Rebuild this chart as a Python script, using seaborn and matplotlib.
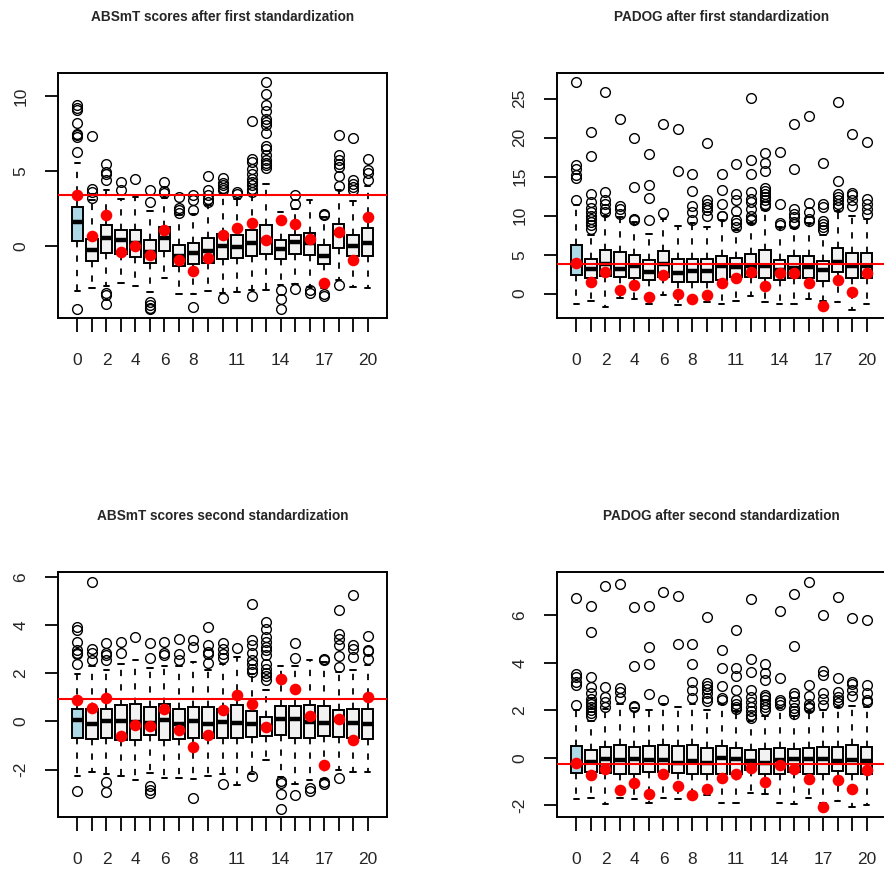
import matplotlib
matplotlib.use("Agg")
import matplotlib.pyplot as plt
import seaborn as sns

# groups on the x axis, only some labels are printed (like R does)
groups = list(range(21))
shown_labels = [0, 2, 4, 6, 8, 11, 14, 17, 20]

# ---- ABSmT scores after first standardization ----
abs1_med = [1.6, -0.24, 0.56, 0.38, 0.2, -0.4, 0.56, -0.69, -0.47, -0.33, 0.0, -0.07, 0.22, 0.42, -0.18, 0.27, 0.22, -0.69, 0.89, -0.02, 0.22]
abs1_q1 = [0.3, -1.02, -0.44, -0.56, -0.73, -1.11, -0.33, -1.33, -1.18, -1.11, -0.84, -0.78, -0.69, -0.51, -0.89, -0.56, -0.62, -1.22, -0.13, -0.69, -0.69]
abs1_q3 = [2.6, 0.45, 1.38, 1.09, 1.09, 0.38, 1.27, 0.04, 0.2, 0.53, 0.82, 0.76, 1.04, 1.42, 0.42, 0.71, 0.89, 0.04, 1.49, 0.76, 1.22]
abs1_lo = [-3.0, -2.78, -2.69, -2.47, -2.69, -3.07, -2.13, -3.18, -3.18, -3.02, -3.13, -3.09, -2.91, -2.96, -2.6, -2.51, -2.73, -2.8, -2.3, -2.73, -2.78]
abs1_hi = [5.55, 3.04, 3.76, 3.16, 3.27, 2.33, 3.22, 2.05, 2.1, 2.71, 3.49, 3.16, 3.4, 4.16, 2.27, 2.49, 3.04, 1.9, 3.71, 3.0, 3.98]
abs1_out = [
    [9.42, 9.22, 9.04, 8.2, 7.49, 7.38, 7.27, 6.27, -4.22],
    [7.31, 3.82, 3.6, 3.22],
    [5.49, 4.93, 4.78, 4.38, -3.11, -3.29, -3.84],
    [4.27, 3.71],
    [4.44],
    [3.76, 2.93, -3.73, -3.96, -4.11, -4.22],
    [4.27, 3.67, 3.53],
    [3.27, 2.56, 2.38, 2.2],
    [3.38, 3.09, 2.38, -4.07],
    [4.67, 3.76, 3.42, 3.16, 2.93],
    [4.53, 4.2, 4.04, 3.89, 3.71, -3.47],
    [3.6, 3.49],
    [8.33, 5.82, 5.6, 5.16, 4.82, 4.49, 4.27, 4.04, 3.82, 3.6, -3.36],
    [10.91, 10.16, 9.38, 8.98, 8.49, 8.27, 8.04, 7.53, 6.64, 6.49, 6.04, 5.71, 5.53, 5.38, 5.22],
    [-2.96, -3.56, -4.18],
    [3.38, 2.78, -2.84],
    [-2.96, -3.11],
    [2.16, 2.04, -3.18, -3.33],
    [7.42, 6.04, 5.71, 5.49, 5.27, 4.67, 4.0, -2.58],
    [7.22, 4.38, 4.16, 3.93, 3.76],
    [5.82, 5.04, 4.89, 4.38],
]
abs1_red = [3.38, 0.64, 2.04, -0.42, 0.0, -0.62, 1.09, -0.96, -1.67, -0.8, 0.71, 1.22, 1.53, 0.38, 1.71, 1.44, 0.44, -2.47, 0.93, -0.96, 1.93]
abs1_cut = 3.38

# ---- PADOG after first standardization ----
pad1_med = [3.9, 3.12, 3.85, 3.2, 3.6, 2.8, 3.8, 2.69, 2.86, 2.86, 3.55, 3.42, 3.55, 3.5, 3.08, 3.29, 3.42, 3.0, 4.06, 3.55, 3.55]
pad1_q1 = [2.35, 2.05, 2.22, 2.14, 2.05, 1.71, 2.14, 1.5, 1.5, 1.5, 1.8, 2.14, 2.14, 2.0, 1.71, 2.05, 2.05, 1.58, 2.78, 2.05, 2.05]
pad1_q3 = [6.2, 4.49, 5.56, 5.34, 5.0, 4.27, 5.47, 4.4, 4.49, 4.49, 4.83, 4.57, 5.04, 5.64, 4.36, 4.83, 4.83, 4.14, 5.9, 5.26, 5.26]
pad1_lo = [-1.28, -0.98, -1.7, -0.55, -0.64, -1.28, -0.21, -1.5, -0.85, -1.07, -1.28, -0.98, -0.34, -1.07, -1.28, -1.28, -0.64, -1.0, -1.07, -2.05, -1.37]
pad1_hi = [11.4, 7.48, 10.0, 9.8, 9.2, 7.7, 9.6, 8.68, 9.0, 8.6, 9.4, 8.2, 9.0, 10.7, 8.5, 8.4, 9.0, 7.5, 10.6, 10.0, 9.6]
pad1_out = [
    [27.1, 16.45, 16.0, 15.2, 14.8, 12.05],
    [20.7, 17.7, 12.8, 11.75, 11.0, 10.5, 10.0, 9.6, 9.2, 8.8, 8.3],
    [25.85, 13.0, 11.97, 11.5, 10.9, 10.5],
    [22.35, 11.3, 10.9, 10.25],
    [20.0, 13.7, 9.6, 9.4],
    [17.86, 14.0, 12.3, 9.4],
    [21.7, 10.34],
    [21.07, 15.73],
    [15.3, 13.16, 11.3, 10.47, 9.49],
    [19.3, 12.0, 11.5, 11.1, 10.7, 9.9],
    [15.3, 13.3, 11.45, 10.0, 9.9],
    [16.6, 12.8, 12.0, 10.55, 9.4, 9.0, 8.55],
    [25.1, 17.1, 15.4, 13.0, 12.2, 11.75, 10.9, 10.0, 9.6, 9.4],
    [18.1, 16.7, 15.7, 13.5, 13.2, 12.8, 12.4, 12.0, 11.5, 11.2],
    [18.2, 11.45, 9.0, 8.8],
    [21.7, 16.0, 10.8, 10.25, 9.8, 9.2, 8.9],
    [22.8, 11.6, 10.5, 9.6, 9.3],
    [16.8, 11.45, 11.1, 9.3, 8.9, 8.55, 8.2],
    [24.6, 14.45, 12.8, 12.4, 12.0, 11.5, 11.1],
    [20.5, 12.9, 12.6, 12.05, 11.3],
    [19.45, 12.2, 11.45, 10.8, 10.25],
]
pad1_red = [3.93, 1.5, 2.78, 0.51, 1.07, -0.43, 2.35, 0.0, -0.73, -0.21, 1.37, 2.05, 2.78, 0.98, 2.65, 2.65, 1.37, -1.62, 1.71, 0.21, 2.65]
pad1_cut = 3.85

# ---- ABSmT scores second standardization ----
abs2_med = [0.04, -0.1, 0.0, 0.0, -0.03, -0.07, 0.04, -0.12, 0.0, -0.12, -0.03, -0.07, -0.12, -0.24, 0.08, 0.11, -0.03, -0.07, 0.07, -0.07, -0.12]
abs2_q1 = [-0.68, -0.72, -0.68, -0.79, -0.76, -0.58, -0.76, -0.72, -0.68, -0.68, -0.68, -0.68, -0.65, -0.62, -0.58, -0.68, -0.68, -0.62, -0.65, -0.68, -0.72]
abs2_q3 = [0.53, 0.53, 0.53, 0.66, 0.73, 0.59, 0.71, 0.53, 0.59, 0.59, 0.53, 0.66, 0.43, 0.18, 0.62, 0.62, 0.66, 0.62, 0.48, 0.53, 0.53]
abs2_lo = [-2.28, -2.1, -2.17, -2.28, -2.42, -2.14, -2.35, -2.35, -2.38, -2.28, -2.2, -2.66, -2.2, -1.59, -2.3, -2.61, -2.42, -2.4, -2.0, -2.1, -2.1]
abs2_hi = [1.98, 2.3, 2.12, 2.39, 2.56, 2.21, 2.3, 2.28, 2.46, 2.14, 2.39, 2.67, 1.95, 1.29, 2.3, 2.3, 2.53, 2.45, 2.05, 2.12, 2.32]
abs2_out = [
    [3.91, 3.8, 3.29, 2.95, 2.85, 2.78, 2.37, -2.89],
    [5.78, 3.02, 2.84, 2.53],
    [3.26, 2.84, 2.74, 2.53, -2.52, -2.93],
    [3.29, 2.85],
    [3.5],
    [3.25, 2.64, -2.7, -2.84, -2.97],
    [3.29, 2.84, 2.74],
    [3.43, 2.78, 2.56],
    [3.36, 3.08, -3.18],
    [3.91, 3.19, 2.88, 2.78, 2.42],
    [3.25, 3.01, 2.81, 2.64, -2.61],
    [3.04],
    [4.88, 3.36, 3.19, 2.84, 2.56, 2.37, 2.19, 2.05, -2.28],
    [4.12, 3.85, 3.5, 3.29, 3.08, 2.97, 2.74, 2.39, 2.19, 2.0, 1.87, 1.73],
    [-2.49, -2.56, -3.03, -3.62],
    [3.26, 2.64, -3.07],
    [-2.75, -2.89],
    [2.6, 2.53, -2.52, -2.61],
    [4.63, 3.64, 3.43, 3.19, 2.7, 2.25, -2.35],
    [5.23, 3.15, 3.02, 2.67],
    [3.54, 2.97, 2.9, 2.6],
]
abs2_red = [0.9, 0.57, 0.97, -0.62, -0.17, -0.19, 0.53, -0.37, -1.07, -0.55, 0.48, 1.08, 0.73, -0.24, 1.77, 1.33, 0.21, -1.83, 0.11, -0.79, 1.01]
abs2_cut = 0.91

# ---- PADOG after second standardization ----
pad2_med = [-0.2, -0.17, -0.07, -0.1, -0.05, -0.1, -0.1, -0.21, -0.14, -0.21, 0.0, -0.07, -0.14, -0.21, -0.1, -0.07, -0.04, -0.04, -0.14, -0.1, -0.14]
pad2_q1 = [-0.65, -0.6, -0.63, -0.7, -0.7, -0.6, -0.6, -0.63, -0.7, -0.7, -0.66, -0.66, -0.52, -0.7, -0.7, -0.6, -0.7, -0.66, -0.56, -0.66, -0.7]
pad2_q3 = [0.5, 0.32, 0.46, 0.56, 0.46, 0.49, 0.56, 0.49, 0.53, 0.42, 0.49, 0.42, 0.32, 0.38, 0.42, 0.38, 0.42, 0.46, 0.46, 0.52, 0.46]
pad2_lo = [-1.75, -1.68, -1.96, -1.68, -1.75, -1.89, -1.68, -1.75, -1.75, -1.58, -1.91, -1.91, -1.47, -1.54, -1.91, -1.96, -1.7, -1.9, -1.82, -2.09, -2.0]
pad2_hi = [2.0, 1.54, 2.05, 2.28, 2.1, 2.0, 2.28, 2.14, 2.28, 2.0, 2.28, 1.95, 1.54, 1.77, 2.1, 1.75, 1.95, 2.0, 2.15, 2.19, 2.16]
pad2_out = [
    [6.73, 3.53, 3.42, 3.17, 3.07, 2.23],
    [6.38, 5.28, 3.42, 3.0, 2.72, 2.47, 2.37, 2.28, 2.16, 2.0, 1.89, 1.77],
    [7.22, 2.97, 2.58, 2.37, 2.16],
    [7.33, 2.93, 2.75, 2.51],
    [6.33, 3.88, 2.2, 2.14],
    [6.38, 4.68, 3.95, 2.7],
    [6.96, 2.44],
    [6.82, 4.79],
    [4.79, 3.94, 3.17, 2.86, 2.51],
    [5.91, 3.14, 3.03, 2.89, 2.72, 2.51, 2.4],
    [4.54, 3.8, 3.03, 2.51, 2.44],
    [5.4, 3.8, 3.45, 2.86, 2.44, 2.28, 2.16, 2.05],
    [6.7, 4.16, 3.6, 2.84, 2.58, 2.37, 2.16, 1.96, 1.82, 1.68],
    [3.94, 3.56, 3.28, 2.65, 2.56, 2.42, 2.28, 2.14, 2.0],
    [6.19, 3.35, 2.44, 2.33, 2.23],
    [6.91, 4.72, 2.72, 2.61, 2.37, 2.09, 1.96, 1.86],
    [7.4, 3.07, 2.61, 2.28, 2.16, 2.09],
    [6.03, 3.67, 3.49, 2.72, 2.47, 2.23],
    [6.77, 3.35, 2.75, 2.58, 2.44, 2.3],
    [5.89, 3.21, 3.11, 2.86, 2.61],
    [5.8, 3.07, 2.72, 2.44, 2.33],
]
pad2_red = [-0.21, -0.74, -0.46, -1.35, -1.08, -1.54, -0.67, -1.19, -1.56, -1.33, -0.84, -0.66, -0.42, -1.0, -0.31, -0.49, -0.91, -2.09, -0.95, -1.3, -0.52]
pad2_cut = -0.24

sns.set_theme(style="white")
plt.rcParams["font.family"] = ["Liberation Sans", "DejaVu Sans"]
plt.rcParams["axes.unicode_minus"] = True

W, H = 884, 869
fig = plt.figure(figsize=(W / 100, H / 100), dpi=100)


def draw_panel(rect_px, title, q1, med, q3, lo, hi, out, red, cut, ylim, yticks):
    x0, y0, x1, y1 = rect_px
    ax = fig.add_axes([x0 / W, 1 - y1 / H, (x1 - x0) / W, (y1 - y0) / H])
    stats = [dict(med=med[i], q1=q1[i], q3=q3[i], whislo=lo[i], whishi=hi[i], fliers=out[i])
             for i in range(len(groups))]
    bp = ax.bxp(stats, positions=groups, widths=0.8, capwidths=0.4, patch_artist=True,
                manage_ticks=False,
                boxprops=dict(edgecolor="black", linewidth=1.4),
                medianprops=dict(color="black", linewidth=3.2, solid_capstyle="butt"),
                whiskerprops=dict(color="black", linewidth=1.3, linestyle=(0, (3.5, 4.5))),
                capprops=dict(color="black", linewidth=1.4),
                flierprops=dict(marker="o", markersize=7, markerfacecolor="none",
                                markeredgecolor="black", markeredgewidth=1.0))
    for i, patch in enumerate(bp["boxes"]):
        patch.set_facecolor("lightblue" if i == 0 else "#F2F2F2")
    ax.axhline(cut, color="red", linewidth=1.5, zorder=3)
    sns.scatterplot(x=groups, y=red, color="red", s=70, linewidth=0, ax=ax, zorder=4)

    ax.set_xlim(-1.34, 21.34)
    ax.set_ylim(*ylim)
    ax.set_xticks(groups)
    ax.set_xticklabels([str(g) if g in shown_labels else "" for g in groups])
    ax.set_yticks(yticks)
    ax.set_yticklabels([str(t) for t in yticks], rotation=90, va="center")
    ax.tick_params(axis="x", length=10, width=1.3, pad=15, labelsize=12.5,
                   bottom=True, direction="out", color="black")
    ax.tick_params(axis="y", length=9.5, width=1.3, pad=12, labelsize=12.5,
                   left=True, direction="out", color="black")
    for s in ax.spines.values():
        s.set_visible(True)
        s.set_color("black")
        s.set_linewidth(1.4)
    fig.text((x0 + x1) / 2 / W, 1 - (y0 - 56) / H, title, ha="center", va="center",
             fontsize=9.8, fontweight="bold")
    return ax


draw_panel((58, 73, 387, 318), "ABSmT scores after first standardization",
           abs1_q1, abs1_med, abs1_q3, abs1_lo, abs1_hi, abs1_out, abs1_red, abs1_cut,
           (-4.8, 11.53), [0, 5, 10])
draw_panel((557, 73, 886, 318), "PADOG after first standardization",
           pad1_q1, pad1_med, pad1_q3, pad1_lo, pad1_hi, pad1_out, pad1_red, pad1_cut,
           (-3.12, 28.3), [0, 5, 10, 15, 20, 25])
draw_panel((58, 572, 387, 817), "ABSmT scores second standardization",
           abs2_q1, abs2_med, abs2_q3, abs2_lo, abs2_hi, abs2_out, abs2_red, abs2_cut,
           (-3.97, 6.2), [-2, 0, 2, 4, 6])
draw_panel((557, 572, 886, 817), "PADOG after second standardization",
           pad2_q1, pad2_med, pad2_q3, pad2_lo, pad2_hi, pad2_out, pad2_red, pad2_cut,
           (-2.49, 7.82), [-2, 0, 2, 4, 6])

fig.savefig("out.png", dpi=100)
